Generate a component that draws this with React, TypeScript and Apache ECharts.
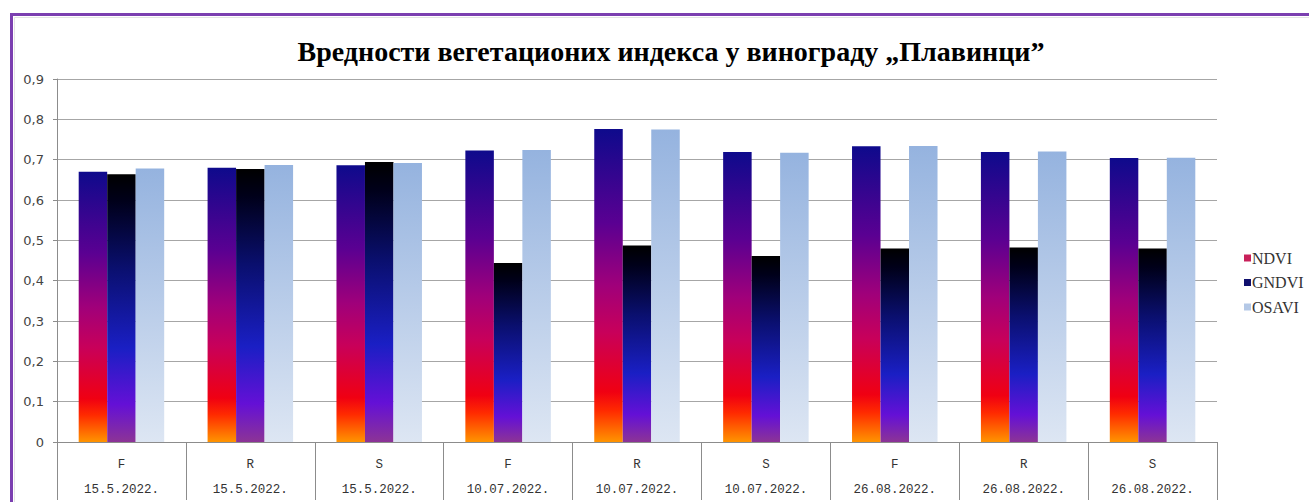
import React, { useEffect, useRef } from "react";
import * as echarts from "echarts";

const sites = ["F", "R", "S", "F", "R", "S", "F", "R", "S"];
const dates = [
  "15.5.2022.", "15.5.2022.", "15.5.2022.",
  "10.07.2022.", "10.07.2022.", "10.07.2022.",
  "26.08.2022.", "26.08.2022.", "26.08.2022.",
];
const ndvi = [0.67, 0.68, 0.686, 0.723, 0.776, 0.719, 0.733, 0.719, 0.704];
const gndvi = [0.664, 0.677, 0.694, 0.444, 0.487, 0.461, 0.48, 0.482, 0.48];
const osavi = [0.678, 0.687, 0.692, 0.724, 0.775, 0.717, 0.734, 0.72, 0.705];
const yTicks = ["0", "0,1", "0,2", "0,3", "0,4", "0,5", "0,6", "0,7", "0,8", "0,9"];

const title = "Вредности вегетационих индекса у винограду „Плавинци”";

const grad = (stops: [number, string][]) =>
  new echarts.graphic.LinearGradient(
    0, 0, 0, 1,
    stops.map(([offset, color]) => ({ offset, color }))
  );

export default function App() {
  const ref = useRef<HTMLDivElement>(null);
  useEffect(() => {
    document.body.style.margin = "0";
    if (!ref.current) return;
    const chart = echarts.init(ref.current, null, { renderer: "svg" });
    const categories = sites.map((s, i) => s + "\n" + dates[i]);
    chart.setOption({
      animation: false,
      backgroundColor: "#ffffff",
      title: {
        text: title,
        left: 666,
        textAlign: "center",
        top: 32,
        textStyle: {
          fontFamily: "Liberation Serif",
          fontWeight: "bold",
          fontSize: 28,
          color: "#000",
        },
      },
      graphic: [
        {
          type: "rect",
          shape: { x: 11.5, y: 14.5, width: 1400, height: 600 },
          style: { fill: "none", stroke: "#7B3FB0", lineWidth: 3 },
          silent: true,
        },
        {
          type: "rect",
          shape: { x: 14.5, y: 17.5, width: 1400, height: 600 },
          style: { fill: "none", stroke: "#e4e4e4", lineWidth: 1 },
          silent: true,
        },
      ],
      legend: {
        orient: "vertical",
        left: 1239,
        top: 245,
        itemWidth: 7,
        itemHeight: 7,
        itemGap: 8.5,
        icon: "rect",
        textStyle: {
          fontFamily: "Liberation Serif",
          fontSize: 16,
          color: "#333",
          padding: [0, 0, 0, -4],
        },
        data: [
          { name: "NDVI", itemStyle: { color: "#C8205A" } },
          { name: "GNDVI", itemStyle: { color: "#10106E" } },
          { name: "OSAVI", itemStyle: { color: "#B4C8E6" } },
        ],
      },
      grid: { left: 57, right: 92, top: 79, bottom: 59 },
      xAxis: {
        type: "category",
        data: categories,
        axisLine: { lineStyle: { color: "#8c8c8c" } },
        axisTick: {
          show: true,
          interval: 0,
          length: 58,
          lineStyle: { color: "#8c8c8c" },
        },
        axisLabel: {
          interval: 0,
          margin: 10,
          lineHeight: 25,
          fontFamily: "Liberation Mono",
          fontSize: 12.5,
          color: "#333",
        },
      },
      yAxis: {
        type: "value",
        min: 0,
        max: 0.9,
        interval: 0.1,
        axisLine: { show: true, lineStyle: { color: "#8c8c8c" } },
        axisTick: { show: true, length: 4, lineStyle: { color: "#8c8c8c" } },
        splitLine: { lineStyle: { color: "#a6a6a6" } },
        axisLabel: {
          margin: 13,
          fontFamily: "DejaVu Sans",
          fontSize: 13,
          color: "#444",
          formatter: (v: number) => yTicks[Math.round(v * 10)],
        },
      },
      series: [
        {
          name: "NDVI",
          type: "bar",
          data: ndvi,
          barWidth: 28.5,
          barGap: "0%",
          itemStyle: {
            color: grad([
              [0, "#0E0A8C"],
              [0.3, "#5A0092"],
              [0.5, "#A0007A"],
              [0.65, "#C8005A"],
              [0.84, "#F00012"],
              [0.9, "#FF2A00"],
              [1, "#FF9400"],
            ]),
          },
        },
        {
          name: "GNDVI",
          type: "bar",
          data: gndvi,
          barWidth: 28.5,
          barGap: "0%",
          itemStyle: {
            color: grad([
              [0, "#000000"],
              [0.1, "#00001A"],
              [0.35, "#0A0F6E"],
              [0.65, "#1A1FC4"],
              [0.86, "#6410D6"],
              [1, "#8C3496"],
            ]),
          },
        },
        {
          name: "OSAVI",
          type: "bar",
          data: osavi,
          barWidth: 28.5,
          barGap: "0%",
          itemStyle: {
            color: grad([
              [0, "#95B3DF"],
              [1, "#DDE6F3"],
            ]),
          },
        },
      ],
    });
    return () => chart.dispose();
  }, []);
  return <div ref={ref} style={{ width: 1309, height: 502 }} />;
}
